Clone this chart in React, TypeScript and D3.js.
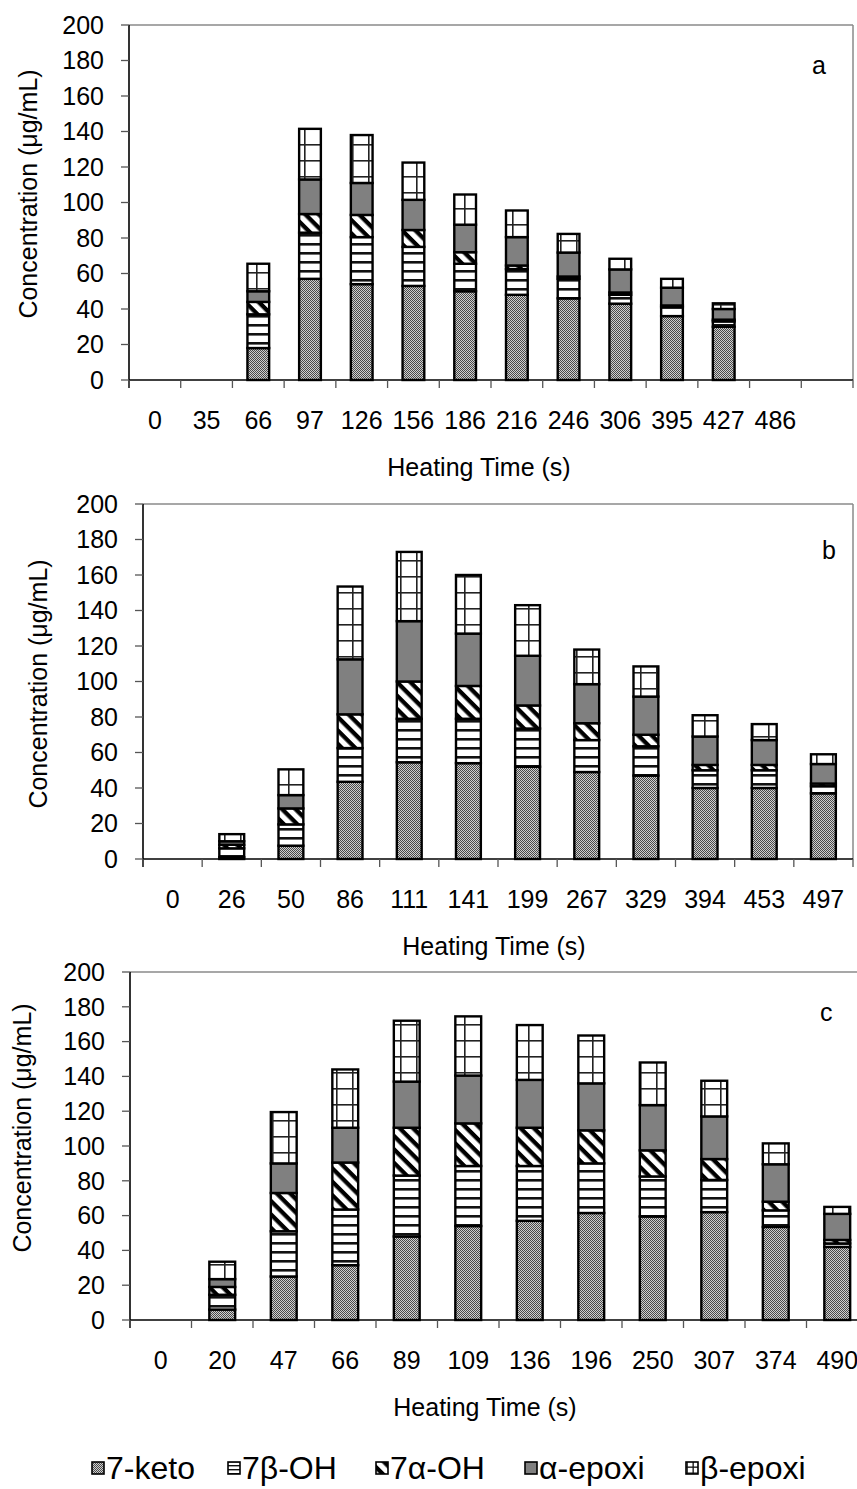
import React from "react";
import * as d3 from "d3";

// ---------- DATA ----------
const seriesKeys = ["keto", "b7OH", "a7OH", "aEp", "bEp"];
const seriesLabels = ["7-keto", "7β-OH", "7α-OH", "α-epoxi", "β-epoxi"];

// Panel a
const timesA = ["0", "35", "66", "97", "126", "156", "186", "216", "246", "306", "395", "427", "486", ""];
const ketoA = [0, 0, 18, 57, 54, 53, 50, 48, 46, 43, 36, 30, 0, 0];
const b7OHA = [0, 0, 19, 26, 26.5, 22, 15.5, 14.5, 11, 5, 5, 3, 0, 0];
const a7OHA = [0, 0, 7, 10.5, 12.5, 9.5, 6.5, 2, 1.3, 1.3, 1, 1, 0, 0];
const aEpA = [0, 0, 6, 19.5, 18, 17, 15.5, 16, 13.5, 13, 10, 6, 0, 0];
const bEpA = [0, 0, 15.5, 28.5, 27, 21, 17, 15, 10.5, 6, 5, 3.2, 0, 0];

// Panel b
const timesB = ["0", "26", "50", "86", "111", "141", "199", "267", "329", "394", "453", "497"];
const ketoB = [0, 1, 7.5, 43.5, 54.5, 54, 52, 49, 47, 40, 40, 37];
const b7OHB = [0, 5, 12, 19, 24.5, 25, 21.5, 18, 16.5, 10, 10, 4];
const a7OHB = [0, 2, 9, 19, 21, 18.5, 13, 9.5, 6.5, 3, 3, 1.5];
const aEpB = [0, 2, 7.5, 31, 34, 29.5, 28, 22, 21.5, 16, 14, 11];
const bEpB = [0, 4, 14.5, 41, 39, 33, 28.5, 19.5, 17, 12, 9, 5.5];

// Panel c
const timesC = ["0", "20", "47", "66", "89", "109", "136", "196", "250", "307", "374", "490"];
const ketoC = [0, 6, 25, 31.5, 48, 54, 57, 61.5, 59.5, 62, 53.5, 42];
const b7OHC = [0, 8.5, 26, 32, 35, 34.5, 31.5, 28.5, 23, 18.5, 9.5, 2];
const a7OHC = [0, 4.5, 22, 27, 27.5, 24.5, 22, 19, 15, 12, 5, 2];
const aEpC = [0, 4.5, 17, 20, 26.5, 27.5, 27.5, 27, 26, 24.5, 21.5, 15];
const bEpC = [0, 10, 29.5, 33.5, 35, 34, 31.5, 27.5, 24.5, 20.5, 12, 4];

const yTicks = [0, 20, 40, 60, 80, 100, 120, 140, 160, 180, 200];
const panelLetters = ["a", "b", "c"];

const FONT = "'Liberation Sans', Arial, Helvetica, sans-serif";
const FS = 25;
const LEGEND_FS = 32;

function buildRows(times: string[], arrs: number[][]) {
  return times.map((t, i) => {
    const r: any = { t };
    seriesKeys.forEach((k, j) => (r[k] = arrs[j][i]));
    return r;
  });
}

const panels = [
  {
    rows: buildRows(timesA, [ketoA, b7OHA, a7OHA, aEpA, bEpA]),
    times: timesA,
    left: 129, right: 853, top: 25, bottom: 380, letterX: 812, letterY: 65, titleX: 28, titleY: 194, xTitleX: 479,
  },
  {
    rows: buildRows(timesB, [ketoB, b7OHB, a7OHB, aEpB, bEpB]),
    times: timesB,
    left: 143, right: 853, top: 504, bottom: 859, letterX: 822, letterY: 550, titleX: 38, titleY: 684, xTitleX: 494,
  },
  {
    rows: buildRows(timesC, [ketoC, b7OHC, a7OHC, aEpC, bEpC]),
    times: timesC,
    left: 130, right: 868, top: 972, bottom: 1320, letterX: 820, letterY: 1012, titleX: 22, titleY: 1128, xTitleX: 485,
  },
];

const fills: Record<string, string> = {
  keto: "url(#p-keto)",
  b7OH: "url(#p-b7)",
  a7OH: "url(#p-a7)",
  aEp: "#808080",
  bEp: "url(#p-bep)",
};

function Panel({ p, idx }: { p: any; idx: number }) {
  const x = d3
    .scaleBand<string>()
    .domain(p.times.map((t: string, i: number) => i + ":" + t))
    .range([p.left, p.right])
    .paddingInner(0.58)
    .paddingOuter(0.29);
  const y = d3.scaleLinear().domain([0, 200]).range([p.bottom, p.top]);
  const stack = d3.stack<any>().keys(seriesKeys);
  const layers = stack(p.rows);
  const step = x.step();
  const n = p.times.length;
  const xKey = (i: number) => i + ":" + p.times[i];

  return (
    <g>
      <line x1={p.left} x2={p.right} y1={p.top} y2={p.top} stroke="#8a8a8a" strokeWidth={1.5} />
      <line x1={p.right} x2={p.right} y1={p.top} y2={p.bottom} stroke="#8a8a8a" strokeWidth={1.5} />
      {layers.map((layer) =>
        layer.map((d, i) => {
          const v = d[1] - d[0];
          if (!(v > 0)) return null;
          return (
            <rect
              key={layer.key + i}
              x={x(xKey(i))}
              width={x.bandwidth()}
              y={y(d[1])}
              height={y(d[0]) - y(d[1])}
              fill={fills[layer.key]}
              stroke="#000"
              strokeWidth={2.4}
            />
          );
        })
      )}
      <line x1={p.left} x2={p.left} y1={p.top} y2={p.bottom + 8} stroke="#000" strokeWidth={1.6} />
      {yTicks.map((t) => (
        <g key={"yt" + t}>
          <line x1={p.left - 8} x2={p.left} y1={y(t)} y2={y(t)} stroke="#555" strokeWidth={1.3} />
          <text x={p.left - 25} y={y(t)} dy="0.35em" textAnchor="end" fontFamily={FONT} fontSize={FS} fill="#000">
            {t}
          </text>
        </g>
      ))}
      <line x1={p.left} x2={p.right} y1={p.bottom} y2={p.bottom} stroke="#000" strokeWidth={1.6} />
      {d3.range(n + 1).map((i) => (
        <line
          key={"xt" + i}
          x1={p.left + i * step}
          x2={p.left + i * step}
          y1={p.bottom}
          y2={p.bottom + 8}
          stroke="#555"
          strokeWidth={1.3}
        />
      ))}
      {p.times.map((t: string, i: number) => (
        <text
          key={"xl" + i}
          x={(x(xKey(i)) as number) + x.bandwidth() / 2}
          y={p.bottom + 40}
          dy="0.35em"
          textAnchor="middle"
          fontFamily={FONT}
          fontSize={FS}
          fill="#000"
        >
          {t}
        </text>
      ))}
      <text x={p.xTitleX} y={p.bottom + 87} dy="0.35em" textAnchor="middle" fontFamily={FONT} fontSize={FS} fill="#000">
        Heating Time (s)
      </text>
      <text
        transform={`translate(${p.titleX},${p.titleY}) rotate(-90)`}
        dy="0.35em"
        textAnchor="middle"
        fontFamily={FONT}
        fontSize={FS}
        fill="#000"
      >
        Concentration (μg/mL)
      </text>
      <text x={p.letterX} y={p.letterY} dy="0.35em" fontFamily={FONT} fontSize={FS} fill="#000">
        {panelLetters[idx]}
      </text>
    </g>
  );
}

const legendX = [92, 228, 376, 525, 686];

export default function App() {
  return (
    <svg
      width={857}
      height={1489}
      style={{ position: "absolute", left: 0, top: 0, background: "#fff" }}
      xmlns="http://www.w3.org/2000/svg"
    >
      <defs>
        <pattern id="p-keto" patternUnits="userSpaceOnUse" width={2} height={2}>
          <rect width={2} height={2} fill="#cfcfcf" />
          <rect x={0} y={0} width={1} height={1} fill="#4a4a4a" />
          <rect x={1} y={1} width={1} height={1} fill="#4a4a4a" />
        </pattern>
        <pattern id="p-b7" patternUnits="userSpaceOnUse" width={8} height={9}>
          <rect width={8} height={9} fill="#fff" />
          <rect x={0} y={0} width={8} height={2.6} fill="#111" />
        </pattern>
        <pattern id="p-a7" patternUnits="userSpaceOnUse" width={9.5} height={9.5} patternTransform="rotate(45)">
          <rect width={9.5} height={9.5} fill="#fff" />
          <rect x={0} y={0} width={9.5} height={4.3} fill="#000" />
        </pattern>
        <pattern id="p-bep" patternUnits="userSpaceOnUse" width={16} height={16}>
          <rect width={16} height={16} fill="#fff" />
          <rect x={0} y={0} width={16} height={1.6} fill="#222" />
          <rect x={0} y={0} width={1.6} height={16} fill="#222" />
        </pattern>
        <pattern id="p-b7-s" patternUnits="userSpaceOnUse" width={4} height={4}>
          <rect width={4} height={4} fill="#fff" />
          <rect x={0} y={1} width={4} height={1.4} fill="#111" />
        </pattern>
        <pattern id="p-bep-s" patternUnits="userSpaceOnUse" width={6} height={6}>
          <rect width={6} height={6} fill="#fff" />
          <rect x={0} y={2.5} width={6} height={1.3} fill="#111" />
          <rect x={2.5} y={0} width={1.3} height={6} fill="#111" />
        </pattern>
      </defs>
      <rect width={857} height={1489} fill="#fff" />
      {panels.map((p, i) => (
        <Panel key={i} p={p} idx={i} />
      ))}
      {seriesKeys.map((k, i) => (
        <g key={"lg" + k}>
          <rect
            x={legendX[i]}
            y={1462}
            width={12}
            height={12}
            fill={k === "b7OH" ? "url(#p-b7-s)" : k === "bEp" ? "url(#p-bep-s)" : fills[k]}
            stroke="#000"
            strokeWidth={1.6}
          />
          <text x={legendX[i] + 14} y={1468} dy="0.35em" fontFamily={FONT} fontSize={LEGEND_FS} fill="#000">
            {seriesLabels[i]}
          </text>
        </g>
      ))}
    </svg>
  );
}
